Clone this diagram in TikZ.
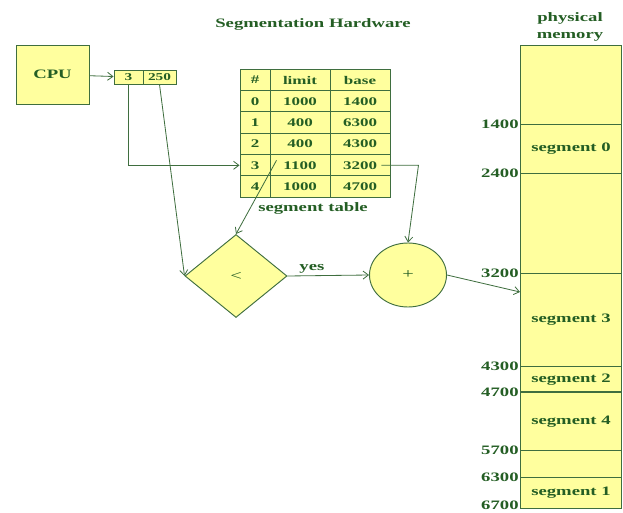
\documentclass[tikz,border=0pt]{standalone}
\usepackage{fontspec}
\setmainfont[FakeStretch=1.45]{Liberation Serif}
\usepackage{tikz}
\usetikzlibrary{arrows.meta,shapes.geometric}
\definecolor{pale}{HTML}{FFFF9E}
\definecolor{wire}{HTML}{3F6E3F}
\definecolor{ink}{HTML}{245E24}

\begin{document}
\begin{tikzpicture}[x=0.03cm,y=-0.03cm,
  font=\fontsize{11}{12}\selectfont\bfseries,
  >={Straight Barb[length=1.6mm,width=2.4mm]},
  box/.style={draw=wire,fill=pale,text=ink,line width=0.8pt,inner sep=0pt},
  cell/.style={box,minimum height=0.64cm,font=\fontsize{10}{11}\selectfont\bfseries},
  memcell/.style={box,anchor=north west,minimum width=3.03cm,minimum height=#1},
  addr/.style={text=ink,anchor=east,inner sep=1pt},
  link/.style={draw=wire,line width=0.7pt,->},
  ]
  \useasboundingbox (0,0) rectangle (623,513);

  % ---- CPU and logical address ----
  \node[text=ink] (title) at (313,24) {Segmentation Hardware};
  \node[box,minimum width=2.19cm,minimum height=1.77cm] (cpu) at (52.5,74.5) {CPU};
  \node[box,minimum width=0.87cm,minimum height=0.42cm,font=\fontsize{9}{10}\selectfont\bfseries] (seg) at (128.5,77) {3};
  \node[box,minimum width=0.99cm,minimum height=0.42cm,font=\fontsize{9}{10}\selectfont\bfseries] (off) at (159.5,77) {250};
  \draw[link] (cpu) -- (seg);

  % ---- segment table ----
  \node[cell,minimum width=0.9cm] (hn) at (255,80) {\#};
  \node[cell,minimum width=1.8cm] (hl) at (300,80) {limit};
  \node[cell,minimum width=1.8cm] (hb) at (360,80) {base};
  \foreach \s/\l/\b in {0/1000/1400,1/400/6300,2/400/4300,3/1100/3200,4/1000/4700}{
    \node[cell,minimum width=0.9cm] (n\s) at (255,{101.3+21.33*\s}) {\s};
    \node[cell,minimum width=1.8cm] (l\s) at (300,{101.3+21.33*\s}) {\l};
    \node[cell,minimum width=1.8cm] (b\s) at (360,{101.3+21.33*\s}) {\b};
  }
  \node[text=ink] (tabname) at (313,208) {segment table};

  % ---- limit check and base add ----
  \node[box,diamond,minimum width=3.06cm,minimum height=2.49cm,font=\large] (cmp) at (236,276) {<};
  \node[box,ellipse,minimum width=2.31cm,minimum height=1.92cm,font=\large] (add) at (408,275) {+};

  \draw[link] (seg.south) |- (n3.west);
  \draw[link] (off.south) -- (cmp.west);
  \draw[link] ([shift={(7,-5)}]l3.west) -- (cmp.north);
  \draw[link] ([xshift=-0.27cm]b3.east) -- ++(37,0) -- (add.north);
  \draw[link] (cmp.east) -- node[pos=0.3,above,text=ink,inner sep=2pt] (yes) {yes} (add.west);

  % ---- physical memory ----
  \node[text=ink,align=center,font=\fontsize{11}{15}\selectfont\bfseries] (memtitle) at (570,27) {physical\\memory};
  \foreach \a/\b/\t [count=\k] in {45/124/{},124/173/segment 0,173/273/{},273/366/segment 3,
      366/392/segment 2,392/450/segment 4,450/477/{},477/508/segment 1}
    \node[memcell={(\b-\a)*0.03cm}] (m\k) at (520,\a) {\t};
  \draw[wire,line width=1.4pt] (m6.north west) -- (m6.north east);
  \foreach \v/\k in {1400/2,2400/3,3200/4,4300/5,4700/6,5700/7,6300/8}
    \node[addr] (v\v) at (m\k.north west) {\v};
  \node[addr] (v6700) at ([yshift=0.12cm]m8.south west) {6700};

  \draw[link] (add.east) -- ([yshift=-0.57cm]m4.north west);
\end{tikzpicture}
\end{document}
